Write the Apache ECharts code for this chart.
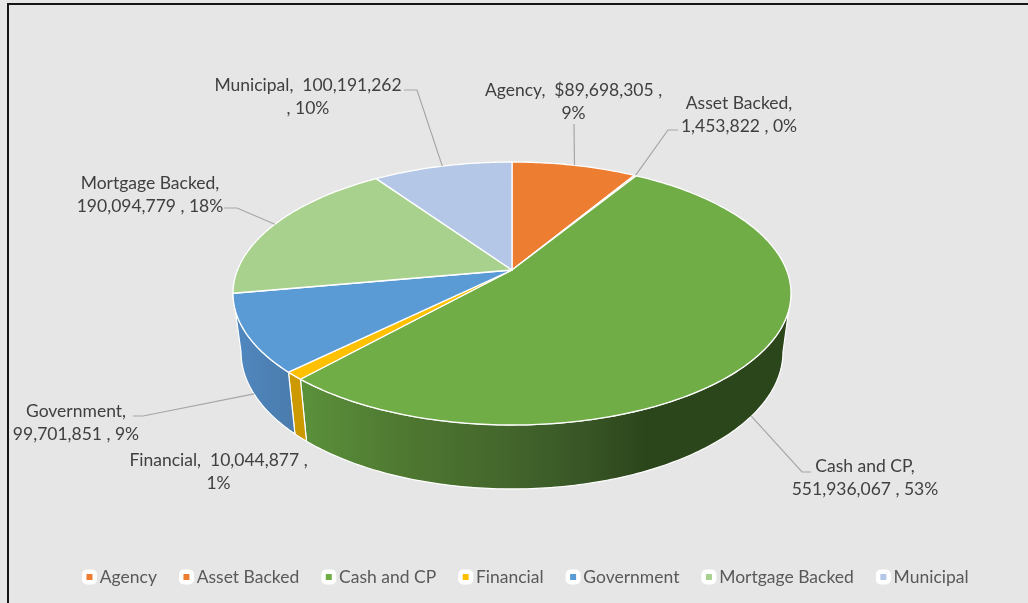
<!DOCTYPE html>
<html><head><meta charset="utf-8">
<style>html,body{margin:0;padding:0;background:#E6E6E6}#c{width:1028px;height:603px}</style>
<script src="https://cdn.jsdelivr.net/npm/echarts@6/dist/echarts.min.js"></script>
</head><body><div id="c"></div>
<script>
const categories = ['Agency','Asset Backed','Cash and CP','Financial','Government','Mortgage Backed','Municipal'];
const values = [89698305,1453822,551936067,10044877,99701851,190094779,100191262];
const labelTexts = [
  'Agency,  $89,698,305 ,\n9%',
  'Asset Backed,\n1,453,822 , 0%',
  'Cash and CP,\n551,936,067 , 53%',
  'Financial,  10,044,877 ,\n1%',
  'Government,\n99,701,851 , 9%',
  'Mortgage Backed,\n190,094,779 , 18%',
  'Municipal,  100,191,262\n, 10%'
];
const topColors = ['#ED7D31','#ED7D31','#70AD47','#FFC000','#5B9BD5','#A9D18E','#B4C7E7'];

// layout of labels and leader elbows (screen px)
const labelLayout = [
  {x:573.5,y:102},
  {x:739,y:114.5},
  {x:865,y:478},
  {x:218.5,y:472},
  {x:76,y:423},
  {x:150,y:195},
  {x:308,y:96.5}
];
const leaderPath = [
  [[574,124]],
  [[678,130],[668,130]],
  [[811,472],[802,472]],
  null,
  [[133,416],[143,416]],
  [[224,208],[237,208]],
  [[404,90],[417,90]]
];
const leaderOnWall = [false,false,true,false,true,false,false];

// projective pie geometry
const C = 0.1787;
const topDisc = {cx:512,cy:270,a:274.5,b:127.3};
const botDisc = {cx:512,cy:327.5,a:266.6,b:132.6};
const wallFrom = Math.acos(-C), wallTo = 2*Math.PI-Math.acos(-C);
function pt(d,t){const u=Math.sin(t),v=Math.cos(t),w=1+C*v;return [d.cx+d.a*u/w,d.cy-d.b*v/w];}
const total = values.reduce((s,v)=>s+v,0);
function arc(d,t0,t1){const n=Math.max(2,Math.ceil(Math.abs(t1-t0)/0.015));const r=[];for(let i=0;i<=n;i++)r.push(pt(d,t0+(t1-t0)*i/n));return r;}

const wallFill = [
  null,null,
  new echarts.graphic.LinearGradient(300,0,645,0,[{offset:0,color:'#5B913B'},{offset:0.3,color:'#4F7831'},{offset:0.6,color:'#43662C'},{offset:0.82,color:'#385626'},{offset:1,color:'#2C461B'}],true),
  '#CC9A00',
  new echarts.graphic.LinearGradient(235,0,295,0,[{offset:0,color:'#5088C0'},{offset:1,color:'#4A7BAC'}],true),
  null,null
];

function renderSlice(index){
  return function(params,api){
    let before=0; for(let i=0;i<index;i++) before+=values[i];
    const val=api.value(0);
    const t0=before/total*2*Math.PI, t1=(before+val)/total*2*Math.PI, mid=(t0+t1)/2;
    const children=[];
    const a=Math.max(t0,wallFrom), b=Math.min(t1,wallTo);
    if(b>a && wallFill[index]){
      children.push({type:'polygon',shape:{points:arc(topDisc,a,b).concat(arc(botDisc,b,a))},
        style:{fill:wallFill[index],stroke:'#fff',lineWidth:1.2,lineJoin:'round'}});
    }
    const apex=[topDisc.cx,topDisc.cy];
    children.push({type:'polygon',shape:{points:[apex].concat(arc(topDisc,t0,t1))},
      style:{fill:topColors[index],stroke:'#fff',lineWidth:1.3,lineJoin:'round'}});
    if(leaderPath[index]){
      children.push({type:'polyline',shape:{points:leaderPath[index].concat([pt(leaderOnWall[index]?botDisc:topDisc,mid)])},
        style:{fill:null,stroke:'#A6A6A6',lineWidth:1.2}});
    }
    const l=labelLayout[index];
    children.push({type:'text',style:{text:labelTexts[index],x:l.x,y:l.y,align:'center',verticalAlign:'middle',
      fontFamily:'Lato',fontSize:17.5,lineHeight:23,fill:'#404040'},z2:10});
    return {type:'group',children};
  };
}

const series = categories.map((name,i)=>({
  type:'custom',name,coordinateSystem:'none',
  data:[[values[i]]],dimensions:['value'],
  itemStyle:{color:topColors[i]},
  renderItem:renderSlice(i),silent:true,animation:false
}));

const chart = echarts.init(document.getElementById('c'),null,{renderer:'canvas'});
chart.setOption({
  backgroundColor:'#E6E6E6',animation:false,
  legend:{
    data:categories,left:77,top:563,icon:'roundRect',itemWidth:10.5,itemHeight:10.5,itemGap:22,
    itemStyle:{borderColor:'#fff',borderWidth:4.5},
    textStyle:{fontFamily:'Lato',fontSize:17.5,color:'#595959'},selectedMode:false
  },
  graphic:[{type:'polyline',silent:true,z:-1,shape:{points:[[8,603],[8,4],[1028,4]]},style:{fill:null,stroke:'#151515',lineWidth:2}}],
  series
});
</script></body></html>
